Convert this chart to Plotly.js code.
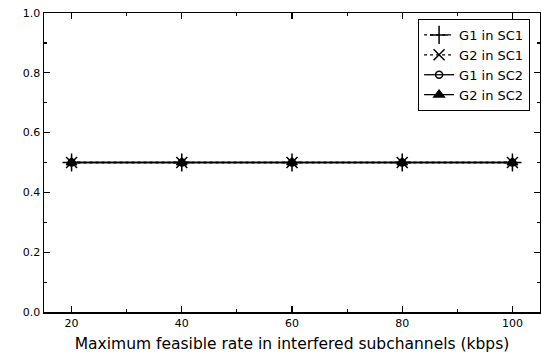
<!DOCTYPE html>
<html><head><meta charset="utf-8">
<script src="https://cdn.plot.ly/plotly-3.0.1.min.js"></script>
<style>body{margin:0;background:#fff}#c{width:541px;height:358px}</style>
</head><body><div id="c"></div>
<script>
var rates = [20, 40, 60, 80, 100];
var g1sc1 = [0.5, 0.5, 0.5, 0.5, 0.5];
var g2sc1 = [0.5, 0.5, 0.5, 0.5, 0.5];
var g1sc2 = [0.5, 0.5, 0.5, 0.5, 0.5];
var g2sc2 = [0.5, 0.5, 0.5, 0.5, 0.5];
var names = ['G1 in SC1', 'G2 in SC1', 'G1 in SC2', 'G2 in SC2'];

function tr(y, name, sym, dash, size) {
  return {x: rates, y: y, name: name, type: 'scatter', mode: 'lines+markers',
    line: {color: '#000', width: 1.3, dash: dash},
    marker: {symbol: sym, size: size, color: '#000', line: {color: '#000', width: 1.5}}};
}
var data = [
  tr(g1sc1, names[0], 'cross-thin-open', 'dot', 13),
  tr(g2sc1, names[1], 'x-thin-open', 'dot', 11),
  tr(g1sc2, names[2], 'circle-open', 'solid', 7),
  tr(g2sc2, names[3], 'triangle-up', 'solid', 9)
];
var F = 'DejaVu Sans, Arial';
var ax = {showline: true, linecolor: '#000', linewidth: 1.5, mirror: 'ticks', ticks: 'inside',
  ticklen: 6, tickwidth: 1.3, tickcolor: '#000', showgrid: false, zeroline: false,
  tickfont: {family: F, size: 11, color: '#000'}};
var layout = {
  width: 541, height: 358,
  margin: {l: 44, r: 1, t: 13, b: 46},
  paper_bgcolor: '#fff', plot_bgcolor: '#fff',
  showlegend: true,
  xaxis: Object.assign({}, ax, {range: [15, 105], tickvals: [20, 40, 60, 80, 100],
    minor: {tickvals: [30, 50, 70, 90], ticks: 'inside', ticklen: 3, tickcolor: '#000', tickwidth: 1.2},
    title: {text: 'Maximum feasible rate in interfered subchannels (kbps)', standoff: 9,
      font: {family: F, size: 15.5, color: '#000'}}}),
  yaxis: Object.assign({}, ax, {range: [0, 1], tickvals: [0, 0.2, 0.4, 0.6, 0.8, 1.0],
    ticktext: ['0.0', '0.2', '0.4', '0.6', '0.8', '1.0'],
    minor: {tickvals: [0.1, 0.3, 0.5, 0.7, 0.9], ticks: 'inside', ticklen: 3, tickcolor: '#000', tickwidth: 1.2}}),
  legend: {x: 0.98, y: 0.98, xanchor: 'right', yanchor: 'top', bgcolor: '#fff',
    bordercolor: '#000', borderwidth: 1, tracegroupgap: 0, itemwidth: 30,
    font: {family: F, size: 13, color: '#000'}}
};
Plotly.newPlot('c', data, layout, {displayModeBar: false, staticPlot: true});
</script></body></html>
